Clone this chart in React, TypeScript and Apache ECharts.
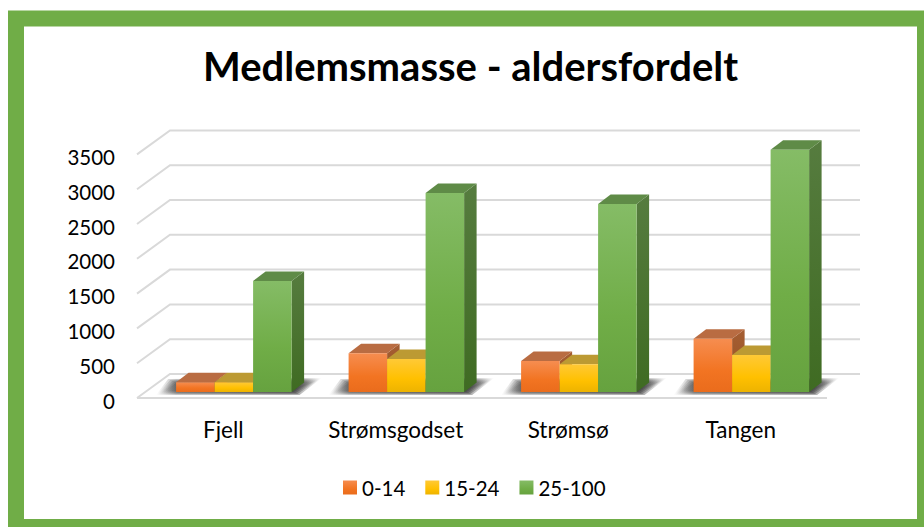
import React, { useEffect, useRef } from "react";
import * as echarts from "echarts";

const categories = ["Fjell", "Strømsgodset", "Strømsø", "Tangen"];
const yTicks = [0, 500, 1000, 1500, 2000, 2500, 3000, 3500];
const age0to14 = [140, 555, 445, 766];
const age15to24 = [140, 474, 400, 530];
const age25to100 = [1595, 2860, 2700, 3480];

const FONT = "Lato, Carlito, Calibri, sans-serif";
const grad = (stops: [number, string][]) =>
  new echarts.graphic.LinearGradient(0, 0, 0, 1, stops.map(([offset, color]) => ({ offset, color })));

const palettes = [
  {
    front: () => grad([[0, "#F68D50"], [0.6, "#F27422"], [1, "#EA6C1C"]]),
    top: "#B96C42",
    side: () => grad([[0, "#A55E33"], [1, "#96501F"]]),
  },
  {
    front: () => grad([[0, "#FFC936"], [0.6, "#FFC000"], [1, "#EDB300"]]),
    top: "#BC9A33",
    side: () => grad([[0, "#A8882B"], [1, "#967A1E"]]),
  },
  {
    front: () => grad([[0, "#85BC66"], [0.6, "#70AD47"], [1, "#66A23F"]]),
    top: "#5F8B47",
    side: () => grad([[0, "#567C3F"], [1, "#3F6B22"]]),
  },
];

const DEPTH_X = 12.5;
const DEPTH_Y = 9.5;
const BAR_W_RATIO = 0.2232;
const BAR_SHIFT_X = 10.6;
const BAR_SHIFT_Y = 6;
const WALL_X = 33;
const WALL_Y = 24;
const SHADOW_LAYERS = [0, 1, 2, 3, 4];

function barSeries(name: string, values: number[], idx: number) {
  const p = palettes[idx];
  return {
    name,
    type: "custom",
    clip: false,
    z: 5 + idx,
    itemStyle: { color: p.front() },
    encode: { x: 0, y: 1 },
    data: values.map((v, i) => [i, v]),
    renderItem: (_: any, api: any) => {
      const i = api.value(0);
      const [cx, yZero] = api.coord([i, 0]);
      const [, yTop0] = api.coord([i, api.value(1)]);
      const w = api.size([1, 0])[0] * BAR_W_RATIO;
      const x0 = cx + BAR_SHIFT_X - 1.5 * w + idx * w;
      const x1 = x0 + w;
      const yb = yZero - BAR_SHIFT_Y;
      const yt = yTop0 - BAR_SHIFT_Y;
      return {
        type: "group",
        children: [
          {
            type: "polygon",
            shape: { points: [[x1, yt], [x1 + DEPTH_X, yt - DEPTH_Y], [x1 + DEPTH_X, yb - DEPTH_Y], [x1, yb]] },
            style: { fill: p.side() },
          },
          {
            type: "polygon",
            shape: { points: [[x0, yt], [x0 + DEPTH_X, yt - DEPTH_Y], [x1 + DEPTH_X, yt - DEPTH_Y], [x1, yt]] },
            style: { fill: p.top },
          },
          {
            type: "rect",
            shape: { x: x0, y: yt, width: w, height: yb - yt },
            style: { fill: p.front() },
          },
        ],
      };
    },
  };
}

export default function App() {
  const ref = useRef<HTMLDivElement>(null);
  useEffect(() => {
    const chart = echarts.init(ref.current!, undefined, { renderer: "svg" });
    chart.setOption({
      animation: false,
      backgroundColor: "#ffffff",
      title: {
        text: "Medlemsmasse - aldersfordelt",
        left: 198,
        top: 41,
        textStyle: { fontFamily: FONT, fontSize: 40, fontWeight: "bold", color: "#000000" },
      },
      legend: {
        left: 338,
        top: 472,
        icon: "rect",
        itemWidth: 14,
        itemHeight: 14,
        itemGap: 20,
        data: ["0-14", "15-24", "25-100"],
        textStyle: { fontFamily: FONT, fontSize: 20.5, color: "#000000" },
      },
      grid: { left: 137, width: 690, top: 154.4, height: 243.6 },
      xAxis: {
        type: "category",
        data: categories,
        axisLine: { show: false },
        axisTick: { show: false },
        axisLabel: { fontFamily: FONT, fontSize: 22.5, color: "#000000", margin: 20, interval: 0 },
      },
      yAxis: {
        type: "value",
        min: 0,
        max: 3500,
        interval: 500,
        splitLine: { show: false },
        axisLine: { show: false },
        axisTick: { show: false },
        axisLabel: {
          fontFamily: FONT,
          fontSize: 20.5,
          color: "#000000",
          margin: 22,
          verticalAlign: "top",
          lineHeight: 5,
          formatter: (v: number) => String(v),
        },
      },
      graphic: [
        { type: "rect", z: -10, shape: { x: 8, y: 10.5, width: 916, height: 516.5 }, style: { fill: "#70AD47" } },
        { type: "rect", z: -9, shape: { x: 24, y: 26.5, width: 893, height: 492.5 }, style: { fill: "#ffffff" } },
      ],
      series: [
        {
          name: "grid",
          type: "custom",
          clip: false,
          z: 2,
          data: yTicks.map((t) => [0, t]),
          encode: { x: 0, y: 1 },
          renderItem: (params: any, api: any) => {
            const y = api.coord([0, api.value(1)])[1];
            const l = params.coordSys.x;
            const r = l + params.coordSys.width;
            const style = { stroke: "#D9D9D9", lineWidth: 2, fill: "none" };
            const children: any[] = [
              {
                type: "polyline",
                shape: { points: [[l, y], [l + WALL_X, y - WALL_Y], [r + WALL_X, y - WALL_Y]] },
                style,
              },
            ];
            if (api.value(1) === 0) {
              children.push({ type: "line", shape: { x1: l, y1: y, x2: r, y2: y }, style });
            }
            return { type: "group", children };
          },
        },
        {
          name: "shadow",
          type: "custom",
          clip: false,
          z: 3,
          data: categories.map((_, i) => [i, 0]),
          encode: { x: 0, y: 1 },
          renderItem: (_: any, api: any) => {
            const [cx, yZero] = api.coord([api.value(0), 0]);
            const w = api.size([1, 0])[0] * BAR_W_RATIO;
            const x0 = cx + BAR_SHIFT_X - 1.5 * w;
            const x1 = x0 + 3 * w;
            const yb = yZero - BAR_SHIFT_Y;
            return {
              type: "group",
              children: SHADOW_LAYERS.map((k) => ({
                type: "polygon",
                shape: {
                  points: [
                    [x0 - 20 + k * 2, yb + 3 - k],
                    [x0 - 8 + k * 2, yb - 13 + k],
                    [x1 + 30 - k * 2, yb - 14 + k],
                    [x1 + 8 - k * 2, yb + 3 - k],
                  ],
                },
                style: {
                  fill: new echarts.graphic.LinearGradient(0, 0, 1, 0, [
                    { offset: 0, color: "rgba(60,60,60,0)" },
                    { offset: 0.12, color: "rgba(60,60,60,0.3)" },
                    { offset: 0.85, color: "rgba(50,50,50,0.4)" },
                    { offset: 1, color: "rgba(60,60,60,0)" },
                  ]),
                },
              })),
            };
          },
        },
        barSeries("0-14", age0to14, 0),
        barSeries("15-24", age15to24, 1),
        barSeries("25-100", age25to100, 2),
      ],
    });
    return () => chart.dispose();
  }, []);
  return <div ref={ref} style={{ position: "fixed", left: 0, top: 0, width: 924, height: 527 }} />;
}
